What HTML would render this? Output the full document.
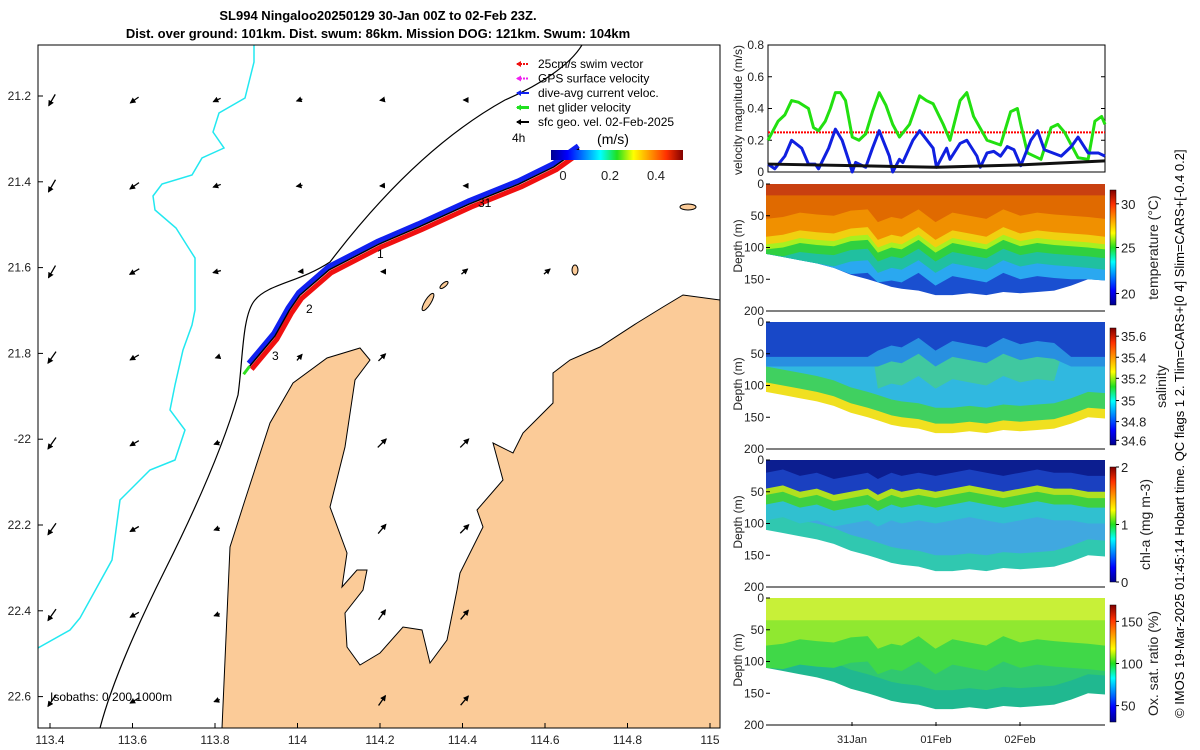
<!DOCTYPE html>
<html><head><meta charset="utf-8"><style>
body{margin:0;background:#fff;}
svg{display:block;font-family:"Liberation Sans",sans-serif;}
</style></head><body>
<svg id="fig" width="1200" height="750" viewBox="0 0 1200 750" xmlns="http://www.w3.org/2000/svg">
<defs>
<linearGradient id="jetH" x1="0" x2="1" y1="0" y2="0">
<stop offset="0" stop-color="#00008f"/><stop offset="0.125" stop-color="#0000ff"/><stop offset="0.375" stop-color="#00ffff"/><stop offset="0.5" stop-color="#20e020"/><stop offset="0.625" stop-color="#ffff00"/><stop offset="0.875" stop-color="#ff3000"/><stop offset="1" stop-color="#800000"/></linearGradient>
<linearGradient id="jetV" x1="0" x2="0" y1="1" y2="0">
<stop offset="0" stop-color="#00008f"/><stop offset="0.125" stop-color="#0000ff"/><stop offset="0.375" stop-color="#00ffff"/><stop offset="0.5" stop-color="#20e020"/><stop offset="0.625" stop-color="#ffff00"/><stop offset="0.875" stop-color="#ff3000"/><stop offset="1" stop-color="#800000"/></linearGradient>
<clipPath id="mapclip"><rect x="38" y="45" width="682" height="683"/></clipPath>
<marker id="ah" markerUnits="userSpaceOnUse" markerWidth="6" markerHeight="6" refX="5" refY="3" orient="auto"><path d="M0,0 L6,3 L0,6 z" fill="#000"/></marker>
</defs>
<text x="378" y="20" text-anchor="middle" font-size="13" font-weight="bold">SL994 Ningaloo20250129 30-Jan 00Z to 02-Feb 23Z.</text>
<text x="378" y="38" text-anchor="middle" font-size="13" font-weight="bold">Dist. over ground: 101km. Dist. swum: 86km. Mission DOG: 121km. Swum: 104km</text>
<g id="map"></g>
<g id="vel"></g>
<g id="sec"></g>
<text transform="translate(1184,718) rotate(-90)" font-size="13">© IMOS 19-Mar-2025 01:45:14 Hobart time. QC flags 1  2. Tlim=CARS+[0 4] Slim=CARS+[-0.4 0.2]</text>
</svg>
<script>
const NS="http://www.w3.org/2000/svg";
function mk(p,t,a,txt){const e=document.createElementNS(NS,t);for(const k in a)e.setAttribute(k,a[k]);if(txt!==undefined)e.textContent=txt;p.appendChild(e);return e;}

// ---------- velocity data ----------
const velFrac=[0,.02,.05,.07,.1,.12,.14,.15,.18,.2,.22,.24,.25,.26,.29,.31,.33,.36,.37,.39,.4,.43,.45,.49,.5,.53,.54,.57,.59,.62,.63,.65,.67,.69,.71,.73,.75,.78,.8,.82,.87,.9,.92,.95,.98,1];
const blueVel=[.05,.02,.1,.2,.15,.05,.05,.02,.15,.27,.2,.07,0,.06,.03,.15,.26,.1,0,.08,.06,.2,.26,.15,.03,.15,.08,.18,.2,.1,.03,.12,.13,.1,.16,.14,.04,.2,.26,.14,.1,.16,.22,.12,.12,.1];
const greenFrac=[0,.015,.03,.05,.07,.09,.12,.135,.15,.17,.185,.2,.215,.23,.25,.27,.29,.31,.33,.35,.37,.39,.42,.45,.47,.49,.52,.54,.57,.59,.61,.65,.69,.72,.74,.75,.77,.81,.84,.86,.88,.92,.95,.97,.99,1];
const greenVel=[.2,.26,.32,.36,.45,.44,.4,.28,.26,.32,.4,.5,.5,.45,.22,.2,.24,.38,.5,.42,.3,.22,.3,.48,.45,.43,.3,.2,.45,.5,.35,.2,.17,.38,.4,.3,.12,.08,.28,.3,.25,.09,.08,.32,.35,.3];
const blackFrac=[0,.25,.5,.75,1];
const blackVel=[.05,.04,.03,.045,.07];
const swimVel=.25;
const velTicks=[0,.2,.4,.6,.8];

(function(){
 const g=document.getElementById('vel');
 const X0=768,X1=1105,Y0=45,Y1=172;
 const vx=f=>X0+f*(X1-X0), vy=v=>Y1-v/0.8*(Y1-Y0);
 const box=mk(g,'rect',{x:X0,y:Y0,width:X1-X0,height:Y1-Y0,fill:'none',stroke:'#000','stroke-width':1});
 
 velTicks.forEach(t=>{
  mk(g,'line',{x1:X0,x2:X0+4,y1:vy(t),y2:vy(t),stroke:'#000'});mk(g,'line',{x1:X1-4,x2:X1,y1:vy(t),y2:vy(t),stroke:'#000'});
  const l=mk(g,'text',{x:X0-4,y:vy(t)+4,'text-anchor':'end','font-size':12,fill:'#222'},t===0?'0':String(t));
  
 });
 const yl=mk(g,'text',{transform:'translate(742,110) rotate(-90)','text-anchor':'middle','font-size':12,fill:'#222'},'velocity magnitude (m/s)');
 
 const sw=mk(g,'line',{x1:X0,x2:X1,y1:vy(swimVel),y2:vy(swimVel),stroke:'#f00','stroke-width':2,'stroke-dasharray':'2,1'});
 
 const line=(fr,vals,col,w,name)=>{const e=mk(g,'polyline',{points:fr.map((f,i)=>vx(f)+','+vy(vals[i])).join(' '),fill:'none',stroke:col,'stroke-width':w,'stroke-linejoin':'round'});};
 line(greenFrac,greenVel,'#22e010',3,'net-glider-velocity-line');
 line(velFrac,blueVel,'#1020e0',3,'dive-avg-current-line');
 line(blackFrac,blackVel,'#111',3,'surface-geo-velocity-line');
})();

// ---------- sections ----------
const secFrac=[0,.05,.1,.15,.2,.25,.3,.33,.37,.4,.45,.5,.55,.6,.65,.7,.75,.8,.85,.9,.95,1];
const bottomDepth=[110,115,120,125,132,143,150,155,162,165,168,175,175,172,175,170,172,170,168,160,150,152];
const thermoDepth=[95,92,85,88,90,82,80,100,92,95,80,100,85,90,95,80,90,85,88,90,92,95];
const chlTop=[45,40,50,45,55,50,45,55,45,50,45,50,45,40,45,50,45,40,45,45,50,50];
const depthTicks=[0,50,100,150,200];
const timeTicks=['31Jan','01Feb','02Feb'];
const timeTickFrac=[.25,.5,.75];

(function(){
 const g=document.getElementById('sec');
 const X0=766,X1=1105,H=127;
 const panels=[
  {y:184,name:'temperature',cb:[190,305],cbTicks:['30','25','20'],cbPos:[.12,.5,.9],label:'temperature (°C)',lx:1158,
   layers:[['#1a4fd0',d=>bottomDepth],['#2aa8f0',i=>thermoDepth[i]+60],['#20c0a0',i=>thermoDepth[i]+40],['#30d040',i=>thermoDepth[i]+22],['#a8f020',i=>thermoDepth[i]+8],['#f0d010',i=>thermoDepth[i]],['#f09000',i=>thermoDepth[i]-12],['#e06a00',i=>thermoDepth[i]-40],['#c84010',i=>18]]},
  {y:322,name:'salinity',cb:[328,445],cbTicks:['35.6','35.4','35.2','35','34.8','34.6'],cbPos:[.07,.25,.43,.62,.8,.96],label:'salinity',lx:1166,
   layers:[['#f0e020',d=>bottomDepth],['#40d060',i=>bottomDepth[i]-15],['#30b8e0',i=>bottomDepth[i]-40],['#40c8a0',i=>secFrac[i]>.3&&secFrac[i]<.9?thermoDepth[i]+5:0],['#2890e0',i=>secFrac[i]>.3&&secFrac[i]<.9?thermoDepth[i]-30:70],['#1848c8',i=>secFrac[i]>.3&&secFrac[i]<.9?thermoDepth[i]-55:55]]},
  {y:460,name:'chlorophyll',cb:[467,582],cbTicks:['2','1','0'],cbPos:[0,.5,1],label:'chl-a (mg m-3)',lx:1150,
   layers:[['#30c8b0',d=>bottomDepth],['#40a8e0',i=>bottomDepth[i]-25],['#30c0d0',i=>chlTop[i]+50],['#40d040',i=>chlTop[i]+25],['#b0e020',i=>chlTop[i]+10],['#1a40c0',i=>chlTop[i]],['#0c1e90',i=>chlTop[i]-25]]},
  {y:598,name:'oxygen',cb:[605,722],cbTicks:['150','100','50'],cbPos:[.14,.5,.86],label:'Ox. sat. ratio (%)',lx:1158,
   layers:[['#20b890',d=>bottomDepth],['#30c870',i=>bottomDepth[i]-30],['#40d848',i=>thermoDepth[i]+20],['#90e830',i=>thermoDepth[i]-20],['#c8f038',i=>35]]}
 ];
 const sx=f=>X0+f*(X1-X0);
 panels.forEach(p=>{
  const dy=d=>p.y+d/200*H;
  const pg=mk(g,'g',{});
  p.layers.forEach((L,li)=>{
   const depthAt=li===0?(i=>bottomDepth[i]):L[1];
   let pts=secFrac.map((f,i)=>sx(f)+','+dy(Math.max(0,Math.min(bottomDepth[i],depthAt(i)))));
   pts=[sx(0)+','+dy(0)].concat(pts).concat([sx(1)+','+dy(0)]);
   const e=mk(pg,'polygon',{points:pts.join(' '),fill:L[0]});
   
  });
  mk(pg,'line',{x1:768,x2:X1,y1:dy(200),y2:dy(200),stroke:'#000'});
  depthTicks.forEach(t=>{
   mk(pg,'line',{x1:766,x2:770,y1:dy(t),y2:dy(t),stroke:'#000'});
   const l=mk(pg,'text',{x:764,y:dy(t)+4,'text-anchor':'end','font-size':12,fill:'#222'},String(t));
   
  });
  const yl=mk(pg,'text',{transform:`translate(742,${p.y+62}) rotate(-90)`,'text-anchor':'middle','font-size':12,fill:'#222'},'Depth (m)');
  
  const cb=mk(pg,'rect',{x:1110,y:p.cb[0],width:6,height:p.cb[1]-p.cb[0],fill:'url(#jetV)',stroke:'#000','stroke-width':0.5});
  
  p.cbTicks.forEach((t,i)=>{
   const yy=p.cb[0]+p.cbPos[i]*(p.cb[1]-p.cb[0]);
   mk(pg,'line',{x1:1116,x2:1119,y1:yy,y2:yy,stroke:'#000'});
   const l=mk(pg,'text',{x:1121,y:yy+5,'font-size':13,fill:'#222'},t);
   
  });
  const cl=mk(pg,'text',{transform:`translate(${p.lx},${(p.cb[0]+p.cb[1])/2}) rotate(-90)`,'text-anchor':'middle','font-size':14,fill:'#222'},p.label);
  
 });
 timeTicks.forEach((t,i)=>{
  const x=768+timeTickFrac[i]*(1104-768);
  mk(g,'line',{x1:x,x2:x,y1:722,y2:726,stroke:'#000'});
  const l=mk(g,'text',{x:x,y:743,'text-anchor':'middle','font-size':11,fill:'#222'},t);
  
 });
})();

// ---------- map ----------
const latTicks=[21.2,21.4,21.6,21.8,22,22.2,22.4,22.6];
const latLabels=['21.2','21.4','21.6','21.8','-22','22.2','22.4','22.6'];
const lonTicks=[113.4,113.6,113.8,114,114.2,114.4,114.6,114.8,115];
const lonLabels=['113.4','113.6','113.8','114','114.2','114.4','114.6','114.8','115'];
const trackLon=[113.884,113.945,113.98,114.005,114.077,114.198,114.295,114.416,114.537,114.622,114.683];
const trackLat=[21.83,21.76,21.70,21.665,21.605,21.545,21.505,21.452,21.405,21.365,21.323];
const arrowAngle=[
 [120,145,155,160,170,180,180,180,180],
 [120,145,160,170,175,180,180,180,180],
 [120,150,165,175,180,-40,-40,-40,-40],
 [125,150,160,-50,-45,-40,-40,-40,-40],
 [125,150,160,-50,-45,-45,-40,-40,-40],
 [125,150,160,-55,-50,-45,-45,-40,-40],
 [125,150,160,-55,-55,-50,-45,-40,-40],
 [125,150,160,-55,-55,-50,-45,-40,-40]];
const arrowLen=[
 [13,10,8,6,4,2,0,0,0],
 [14,11,8,6,4,2,0,0,0],
 [14,11,8,2,2,8,8,0,0],
 [14,10,3,8,10,0,0,0,0],
 [14,10,6,0,12,12,0,0,0],
 [14,10,6,0,12,12,0,0,0],
 [14,10,6,0,12,12,0,0,0],
 [14,10,6,0,12,12,0,0,0]];

(function(){
 const g=document.getElementById('map');
 const lx=lon=>50+(lon-113.4)*412.5, ly=lat=>96+(lat-21.2)*429;
 const frame=mk(g,'g',{'clip-path':'url(#mapclip)'});
 const land=mk(frame,'path',{d:'M222,728 L230,547 L245,500 L270,423 L293,383 L327,358 L360,348 L370,360 L355,380 L345,447 L330,507 L347,553 L342,587 L357,570 L367,570 L363,590 L345,613 L347,647 L360,665 L380,653 L403,627 L422,630 L430,663 L447,640 L457,590 L460,573 L483,527 L477,510 L503,480 L493,443 L513,453 L523,433 L553,403 L553,373 L570,360 L600,347 L637,323 L663,307 L683,295 L720,300 L720,728 Z',fill:'#fbcb98',stroke:'#000','stroke-width':1});
 
 [[428,302,10,3,-58],[444,285,5,2,-40],[688,207,8,3,0],[575,270,3,5,0]].forEach(a=>{
  const e=mk(frame,'ellipse',{cx:a[0],cy:a[1],rx:a[2],ry:a[3],transform:`rotate(${a[4]} ${a[0]} ${a[1]})`,fill:'#fbcb98',stroke:'#000'});
  
 });
 const iso=mk(frame,'path',{d:'M582,45 C570,65 540,85 505,100 C460,125 400,170 330,262 C300,282 268,284 255,300 C242,315 243,360 238,395 C225,440 200,500 165,570 C130,640 110,690 100,728',fill:'none',stroke:'#000','stroke-width':1.2});
 
 const cy=mk(frame,'path',{d:'M254,45 L254,62 L245,98 L219,113 L213,132 L224,148 L202,158 L192,175 L162,184 L153,196 L155,210 L176,228 L188,247 L195,258 L195,310 L192,325 L183,350 L175,385 L170,410 L185,430 L175,460 L150,470 L120,500 L112,560 L80,618 L70,630 L38,648',fill:'none',stroke:'#22e8f0','stroke-width':1.5});
 
 latTicks.forEach((lat,r)=>{
  lonTicks.forEach((lon,c)=>{
   const L=arrowLen[r][c]; if(!L) return;
   const x=lx(lon)+2, y=ly(lat)+4;
   const a=arrowAngle[r][c]*Math.PI/180;
   const e=mk(frame,'line',{x1:x-Math.cos(a)*L/2,y1:y-Math.sin(a)*L/2,x2:x+Math.cos(a)*L/2,y2:y+Math.sin(a)*L/2,stroke:'#000','stroke-width':1.3,'marker-end':'url(#ah)'});
   
  });
 });
 const tp=trackLon.map((l,i)=>lx(l)+','+ly(trackLat[i])).join(' ');
 const tr=mk(frame,'polyline',{points:tp,fill:'none',stroke:'#f01010','stroke-width':5,'stroke-linejoin':'round',transform:'translate(2,3)'});
 
 const tb=mk(frame,'polyline',{points:tp,fill:'none',stroke:'#1020f0','stroke-width':5,'stroke-linejoin':'round',transform:'translate(-1,-3)'});
 
 const tk=mk(frame,'polyline',{points:tp,fill:'none',stroke:'#000','stroke-width':1.5});
 
 const gr=mk(frame,'line',{x1:lx(trackLon[0]),y1:ly(trackLat[0]),x2:lx(trackLon[0])-6,y2:ly(trackLat[0])+8,stroke:'#30e020','stroke-width':3});
 
 [['3',272,360],['2',306,313],['1',377,258],['31',478,207]].forEach(d=>{const t=mk(frame,'text',{x:d[1],y:d[2],'font-size':12},d[0]);});
 const fb=mk(g,'rect',{x:38,y:45,width:682,height:683,fill:'none',stroke:'#000'});
 
 latTicks.forEach((lat,i)=>{const y=ly(lat);mk(g,'line',{x1:38,x2:43,y1:y,y2:y,stroke:'#000'});
  const t=mk(g,'text',{x:31,y:y+4,'text-anchor':'end','font-size':12,fill:'#222'},latLabels[i]);});
 lonTicks.forEach((lon,i)=>{const x=lx(lon);mk(g,'line',{x1:x,x2:x,y1:723,y2:728,stroke:'#000'});
  const t=mk(g,'text',{x:x,y:744,'text-anchor':'middle','font-size':12,fill:'#222'},lonLabels[i]);});
 const ib=mk(g,'text',{x:50,y:701,'font-size':12},'Isobaths: 0   200  1000m');
 const leg=[['#f01010','25cm/s swim vector'],['#f020f0','GPS surface velocity'],['#1020f0','dive-avg current veloc.'],['#20e020','net glider velocity'],['#000','sfc geo. vel. 02-Feb-2025']];
 leg.forEach((l,i)=>{const y=64+i*14.5;
  const ln=mk(g,'line',{x1:517,x2:529,y1:y,y2:y,stroke:l[0],'stroke-width':i===3?3:2,'stroke-dasharray':i<2?'2,1':'none'});
  
  const hd=mk(g,'path',{d:`M516,${y} l5,-3 l0,6 z`,fill:l[0]});
  
  const t=mk(g,'text',{x:538,y:y+4,'font-size':12},l[1]);});
 const t4=mk(g,'text',{x:512,y:142,'font-size':12},'4h');
 const ms=mk(g,'text',{x:613,y:144,'text-anchor':'middle','font-size':14},'(m/s)');
 const mcb=mk(g,'rect',{x:551,y:150,width:132,height:10,fill:'url(#jetH)'});
 [['0',563],['0.2',610],['0.4',656]].forEach(d=>{const t=mk(g,'text',{x:d[1],y:180,'text-anchor':'middle','font-size':13,fill:'#222'},d[0]);});
})();
</script>
</body></html>
